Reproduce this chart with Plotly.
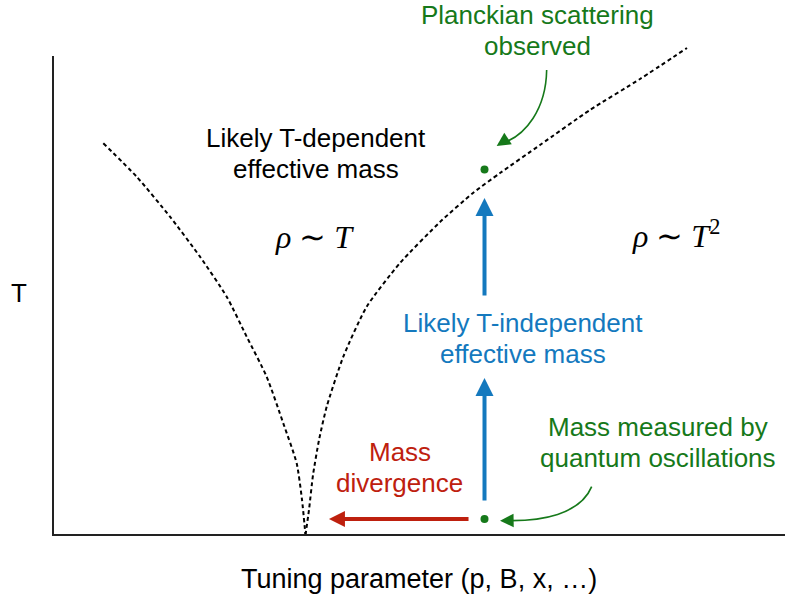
import plotly.graph_objects as go

# ---------------- data (normalized units: x = tuning parameter, T = temperature) -------------
# Crossover lines of the schematic phase diagram
left_x = [0.0687, 0.1143, 0.1598, 0.2008, 0.2373, 0.2646, 0.2919, 0.3146, 0.3329, 0.3402, 0.3449]
left_T = [0.8177, 0.7480, 0.6645, 0.5810, 0.4975, 0.4140, 0.3305, 0.2332, 0.1497, 0.0731, 0.0]

right_x = [0.3449, 0.3497, 0.3552, 0.3634, 0.3739, 0.3966, 0.4285, 0.4740, 0.5287, 0.5738,
           0.6107, 0.6653, 0.7336, 0.8019, 0.8661]
right_T = [0.0, 0.0522, 0.1253, 0.1983, 0.2678, 0.3722, 0.4766, 0.5678, 0.6534, 0.7140,
           0.7557, 0.8142, 0.8873, 0.9520, 1.0167]

# Measurement points (quantum oscillations at low T, Planckian scattering at high T)
point_x = [0.5895, 0.5895]
point_T = [0.0334, 0.7631]

# Labels (one entry per text line)
x_label = "Tuning parameter (p, B, x, …)"
y_label = "T"
label_planck = ["Planckian scattering", "observed"]
label_tdep = ["Likely T-dependent", "effective mass"]
label_tindep = ["Likely T-independent", "effective mass"]
label_div = ["Mass", "divergence"]
label_qo = ["Mass measured by", "quantum oscillations"]
label_rho_T = "<i>ρ</i> ∼ <i>T</i>"
label_rho_T2 = "<i>ρ</i> ∼ <i>T</i><sup>2</sup>"

# ---------------- styles ----------------
GREEN = "#16791A"
BLUE = "#1479BE"
RED = "#BE200E"
AXIS = "#222222"
SANS = "Liberation Sans, Arial, Helvetica, sans-serif"
SERIF = "Liberation Serif, Times New Roman, serif"
FS = 26
LINE_DT = 31 / 479  # line spacing in T units

fig = go.Figure()

for xs, ts in [(left_x, left_T), (right_x, right_T)]:
    fig.add_trace(go.Scatter(
        x=xs, y=ts, mode="lines",
        line=dict(color="black", width=2, dash="4px,3px", shape="spline", smoothing=0.6),
        hoverinfo="skip", showlegend=False))

fig.add_trace(go.Scatter(
    x=point_x, y=point_T, mode="markers",
    marker=dict(color=GREEN, size=8, line=dict(width=0)),
    hoverinfo="skip", showlegend=False))

shapes = [
    # axis spines
    dict(type="line", xref="x", yref="y", x0=0, x1=0, y0=-0.002, y1=1.0,
         line=dict(color=AXIS, width=2)),
    dict(type="line", xref="x", yref="y", x0=0, x1=1.0, y0=0, y1=0,
         line=dict(color=AXIS, width=2)),
    # curved green pointers
    dict(type="path", xref="x", yref="y",
         path="M0.7359,0.1009 C0.7200,0.0418 0.6653,0.0292 0.6230,0.0301",
         line=dict(color=GREEN, width=1.6)),
    dict(type="path", xref="x", yref="y",
         path="M0.6744,0.9708 C0.6735,0.8873 0.6448,0.8351 0.6160,0.8190",
         line=dict(color=GREEN, width=1.6)),
]

annotations = []


def arrow(tip, tail, color, width, size):
    annotations.append(dict(
        x=tip[0], y=tip[1], ax=tail[0], ay=tail[1],
        xref="x", yref="y", axref="x", ayref="y",
        text="", showarrow=True, arrowhead=2, arrowsize=size,
        arrowwidth=width, arrowcolor=color, standoff=0, startstandoff=0))


# blue vertical arrows, red horizontal arrow
arrow((0.5895, 0.3278), (0.5895, 0.0689), BLUE, 4, 0.9)
arrow((0.5895, 0.7035), (0.5895, 0.4969), BLUE, 4, 0.9)
arrow((0.3770, 0.0334), (0.5697, 0.0334), RED, 4, 0.8)
# green arrow heads at the ends of the curved pointers
arrow((0.6107, 0.0299), (0.6280, 0.0303), GREEN, 1.6, 1.7)
arrow((0.6061, 0.8121), (0.6200, 0.8261), GREEN, 1.6, 1.7)


def text(x, y, s, color, size, family=SANS, xref="x", yref="y"):
    annotations.append(dict(
        x=x, y=y, xref=xref, yref=yref, text=s, showarrow=False,
        font=dict(color=color, size=size, family=family),
        xanchor="center", yanchor="middle", align="center"))


def lines_block(x, y_first, lines, color):
    for i, s in enumerate(lines):
        text(x, y_first - i * LINE_DT, s, color, FS)


lines_block(0.6612, 1.0856, label_planck, GREEN)
lines_block(0.3593, 0.8288, label_tdep, "black")
lines_block(0.6421, 0.4426, label_tindep, BLUE)
lines_block(0.4740, 0.1733, label_div, RED)
lines_block(0.8265, 0.2255, label_qo, GREEN)
text(0.3579, 0.6230, label_rho_T, "black", 32, SERIF)
text(0.8511, 0.6290, label_rho_T2, "black", 32, SERIF)
text(-0.0323, 0.4618, y_label, "black", FS, xref="paper", yref="paper")
text(0.5074, -0.0615, x_label, "black", 27, xref="paper", yref="paper")

fig.update_layout(
    width=785, height=596,
    margin=dict(l=43, r=0, t=0, b=51),
    paper_bgcolor="white", plot_bgcolor="white",
    xaxis=dict(visible=False, range=[-10 / 732, 1.0], fixedrange=True),
    yaxis=dict(visible=False, range=[-10 / 479, 535 / 479], fixedrange=True),
    shapes=shapes, annotations=annotations, showlegend=False,
)

fig.write_html("out.html", config={"displayModeBar": False},
               post_script="document.body.style.margin='0';")
